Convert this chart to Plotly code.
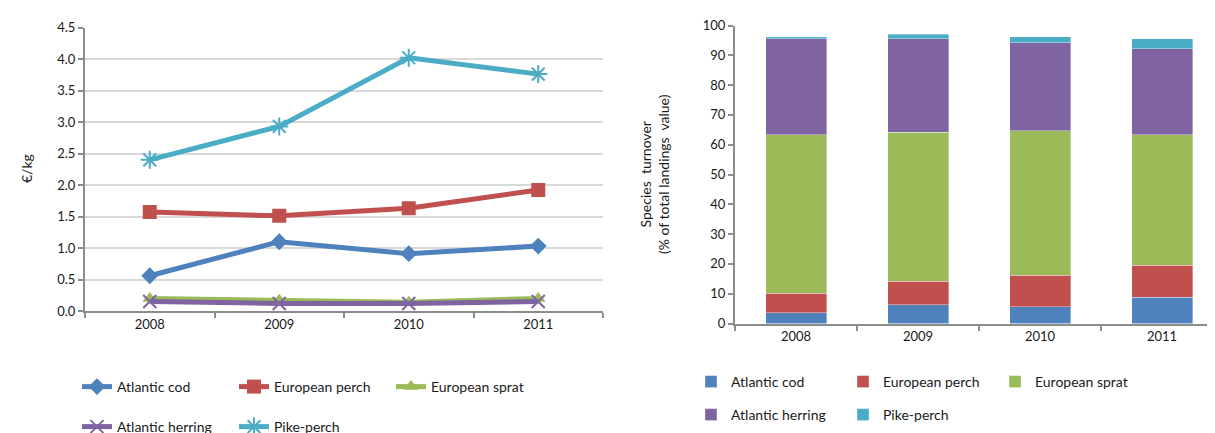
import plotly.graph_objects as go

years = ["2008", "2009", "2010", "2011"]
species = ["Atlantic cod", "European perch", "European sprat", "Atlantic herring", "Pike-perch"]
colors = ["#4F81BD", "#C0504D", "#9BBB59", "#8064A2", "#4BACC6"]

# Left chart: price (€/kg)
price_cod = [0.56, 1.10, 0.91, 1.03]
price_perch = [1.57, 1.51, 1.63, 1.92]
price_sprat = [0.20, 0.17, 0.14, 0.20]
price_herring = [0.15, 0.12, 0.12, 0.15]
price_pike = [2.40, 2.93, 4.02, 3.76]

# Right chart: species turnover (% of total landings value)
share_cod = [3.6, 6.3, 5.6, 8.8]
share_perch = [6.6, 7.9, 10.6, 10.8]
share_sprat = [53.2, 49.9, 48.5, 43.8]
share_herring = [32.1, 31.4, 29.5, 28.8]
share_pike = [0.8, 1.6, 2.1, 3.4]

left_y_ticks = [0.0, 0.5, 1.0, 1.5, 2.0, 2.5, 3.0, 3.5, 4.0, 4.5]
right_y_ticks = [0, 10, 20, 30, 40, 50, 60, 70, 80, 90, 100]

prices = [price_cod, price_perch, price_sprat, price_herring, price_pike]
shares = [share_cod, share_perch, share_sprat, share_herring, share_pike]
symbols = ["diamond", "square", "triangle-up", "x-thin", "asterisk"]
msizes = [13, 14, 13, 13, 15]
left_legends = ["legend", "legend", "legend", "legend2", "legend2"]
right_legends = ["legend3", "legend3", "legend3", "legend4", "legend4"]

FONT = "Lato, 'Open Sans', sans-serif"
W, H = 1215, 433

fig = go.Figure()

for name, vals, col, sym, ms, lg in zip(species, prices, colors, symbols, msizes, left_legends):
    open_sym = sym in ("x-thin", "asterisk")
    fig.add_trace(go.Scatter(
        x=years, y=vals, name=name, mode="lines+markers",
        line=dict(color=col, width=5),
        marker=dict(symbol=sym, size=ms, color=col,
                    line=dict(color=col, width=2 if open_sym else 0)),
        xaxis="x", yaxis="y", legend=lg,
    ))

for name, vals, col, lg in zip(species, shares, colors, right_legends):
    fig.add_trace(go.Bar(
        x=years, y=vals, name=name,
        marker=dict(color=col, line=dict(color="rgba(255,255,255,0.6)", width=0.6)),
        xaxis="x2", yaxis="y2", legend=lg,
    ))

axis_line = dict(showline=True, linecolor="#8c8c8c", linewidth=2)
tick_style = dict(ticks="outside", ticklen=5, tickcolor="#8c8c8c", tickwidth=2)

fig.update_layout(
    width=W, height=H,
    margin=dict(l=0, r=0, t=0, b=0, autoexpand=False),
    paper_bgcolor="white", plot_bgcolor="white",
    font=dict(family=FONT, size=13, color="#1a1a1a"),
    barmode="stack", bargap=0.5,
    xaxis=dict(domain=[77 / W, 595 / W], anchor="y", type="category", range=[-0.5, 3.5],
               tickson="boundaries", showgrid=False, **tick_style, **axis_line),
    yaxis=dict(domain=[1 - 303 / H, 1 - 19.5 / H], anchor="x", range=[0, 4.5],
               tickvals=left_y_ticks, ticktext=[f"{v:.1f}" for v in left_y_ticks],
               showgrid=True, gridcolor="#d9d9d9", gridwidth=2, zeroline=False,
               **tick_style, **axis_line),
    xaxis2=dict(domain=[727 / W, 1.0], anchor="y2", type="category", range=[-0.5, 3.5],
                tickson="boundaries", showgrid=False, **tick_style, **axis_line),
    yaxis2=dict(domain=[1 - 315.5 / H, 1 - 17.5 / H], anchor="x2", range=[0, 100],
                tickvals=right_y_ticks, showgrid=False, zeroline=False,
                **tick_style, **axis_line),
    showlegend=True,
)

leg_common = dict(orientation="h", xanchor="left", yanchor="middle", bgcolor="rgba(0,0,0,0)",
                  entrywidthmode="pixels", font=dict(family=FONT, size=14, color="#1a1a1a"),
                  traceorder="normal")
fig.update_layout(
    legend=dict(x=69 / W, y=1 - 379 / H, entrywidth=112, **leg_common),
    legend2=dict(x=69 / W, y=1 - 419 / H, entrywidth=112, **leg_common),
    legend3=dict(x=683 / W, y=1 - 374 / H, entrywidth=107, **leg_common),
    legend4=dict(x=683 / W, y=1 - 407 / H, entrywidth=107, **leg_common),
)

fig.add_annotation(text="€/kg", textangle=-90, x=18 / W, y=1 - 161 / H, xref="paper", yref="paper",
                   showarrow=False, font=dict(size=14), xanchor="center", yanchor="middle")
fig.add_annotation(text="Species  turnover<br>(% of total landings  value)", textangle=-90,
                   x=647 / W, y=1 - 166 / H, xref="paper", yref="paper",
                   showarrow=False, font=dict(size=14), xanchor="center", yanchor="middle")

fig.write_html("out.html")
